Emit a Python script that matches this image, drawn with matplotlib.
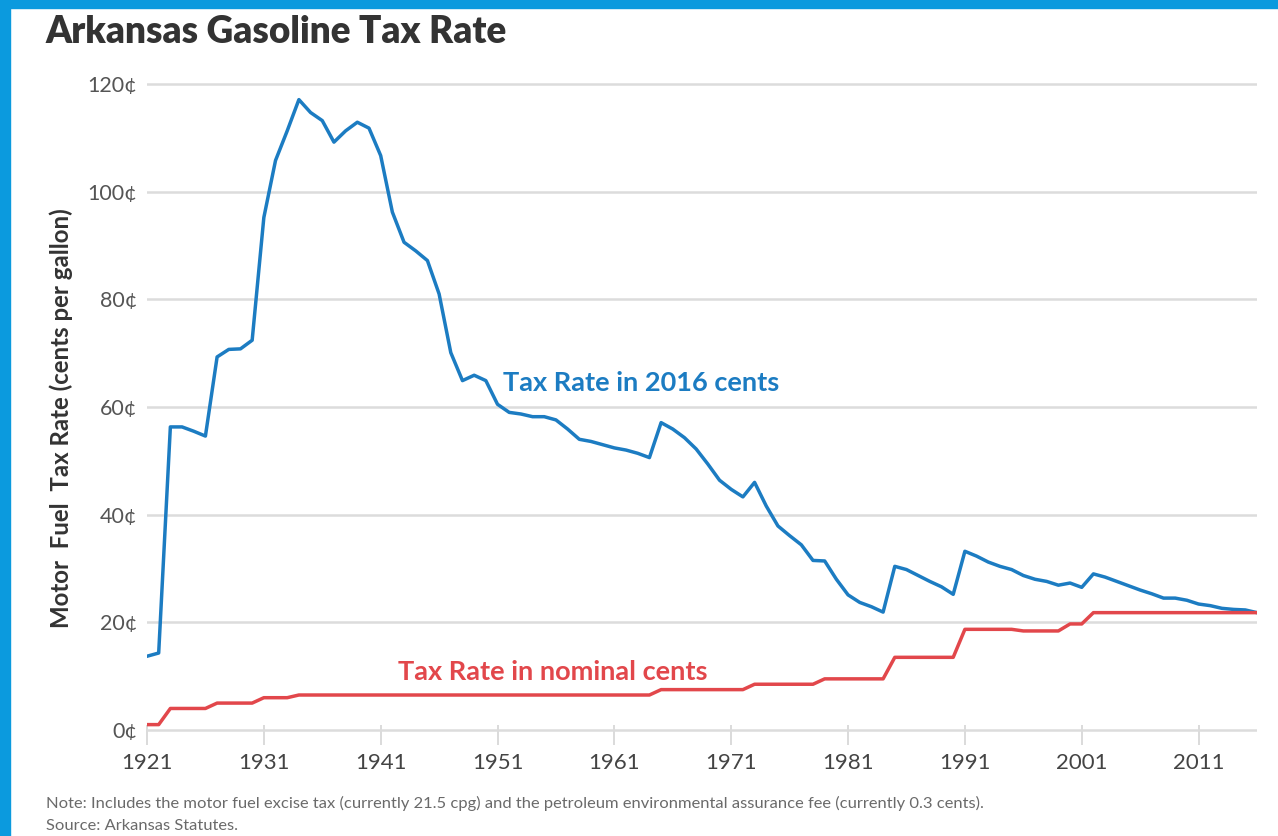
import matplotlib
matplotlib.use("Agg")
import matplotlib.pyplot as plt
from matplotlib.ticker import FuncFormatter, FixedLocator

plt.rcParams['font.family'] = ['Lato', 'DejaVu Sans']

years = list(range(1921, 2017))

real_2016 = [
    13.7, 14.3, 56.3, 56.3, 55.5, 54.6, 69.3, 70.7, 70.8, 72.4,   # 1921-1930
    95.2, 105.8, 111.3, 117.1, 114.7, 113.2, 109.2, 111.3, 112.9, 111.8,  # 1931-1940
    106.7, 96.2, 90.6, 89.0, 87.2, 81.0, 70.1, 64.9, 65.9, 64.9,  # 1941-1950
    60.5, 59.0, 58.7, 58.2, 58.2, 57.6, 55.9, 54.0, 53.6, 53.0,   # 1951-1960
    52.4, 52.0, 51.4, 50.6, 57.1, 55.9, 54.3, 52.2, 49.4, 46.4,   # 1961-1970
    44.7, 43.3, 46.0, 41.6, 37.9, 36.1, 34.4, 31.5, 31.4, 28.0,   # 1971-1980
    25.1, 23.7, 22.9, 21.9, 30.4, 29.8, 28.7, 27.6, 26.6, 25.2,   # 1981-1990
    33.2, 32.3, 31.2, 30.4, 29.8, 28.7, 28.0, 27.6, 26.9, 27.3,   # 1991-2000
    26.5, 29.0, 28.4, 27.6, 26.8, 26.0, 25.3, 24.5, 24.5, 24.1,   # 2001-2010
    23.4, 23.1, 22.6, 22.4, 22.3, 21.8,                           # 2011-2016
]

nominal = [
    1.0, 1.0, 4.0, 4.0, 4.0, 4.0, 5.0, 5.0, 5.0, 5.0,             # 1921-1930
    6.0, 6.0, 6.0, 6.5, 6.5, 6.5, 6.5, 6.5, 6.5, 6.5,             # 1931-1940
    6.5, 6.5, 6.5, 6.5, 6.5, 6.5, 6.5, 6.5, 6.5, 6.5,             # 1941-1950
    6.5, 6.5, 6.5, 6.5, 6.5, 6.5, 6.5, 6.5, 6.5, 6.5,             # 1951-1960
    6.5, 6.5, 6.5, 6.5, 7.5, 7.5, 7.5, 7.5, 7.5, 7.5,             # 1961-1970
    7.5, 7.5, 8.5, 8.5, 8.5, 8.5, 8.5, 8.5, 9.5, 9.5,             # 1971-1980
    9.5, 9.5, 9.5, 9.5, 13.5, 13.5, 13.5, 13.5, 13.5, 13.5,       # 1981-1990
    18.7, 18.7, 18.7, 18.7, 18.7, 18.4, 18.4, 18.4, 18.4, 19.7,   # 1991-2000
    19.7, 21.8, 21.8, 21.8, 21.8, 21.8, 21.8, 21.8, 21.8, 21.8,   # 2001-2010
    21.8, 21.8, 21.8, 21.8, 21.8, 21.8,                           # 2011-2016
]

x_ticks = [1921, 1931, 1941, 1951, 1961, 1971, 1981, 1991, 2001, 2011]
y_ticks = [0, 20, 40, 60, 80, 100, 120]

BLUE = "#1c7cc2"
RED = "#e2474b"
FRAME = "#0b9ade"

W, H = 1278, 836
fig = plt.figure(figsize=(W / 100, H / 100), dpi=100)
fig.patch.set_facecolor("white")

# blue frame (top + left)
fig.add_artist(plt.Rectangle((0, 1 - 8 / H), 1, 8 / H, transform=fig.transFigure,
                             color=FRAME, zorder=0))
fig.add_artist(plt.Rectangle((0, 0), 10 / W, 1, transform=fig.transFigure,
                             color=FRAME, zorder=0))

# axes placement
ymin, ymax = -1, 121
px_per = (730 - 84) / 120
y_bot = 730 + px_per * (0 - ymin)
y_top = 84 - px_per * (ymax - 120)
ax = fig.add_axes([147 / W, (H - y_bot) / H, (1257 - 147) / W, (y_bot - y_top) / H])
ax.set_xlim(1921, 2016)
ax.set_ylim(ymin, ymax)

ax.plot(years, real_2016, color=BLUE, lw=2.5, solid_joinstyle="round", zorder=3)
ax.plot(years, nominal, color=RED, lw=2.5, solid_joinstyle="round", zorder=3)

for s in ax.spines.values():
    s.set_visible(False)
ax.yaxis.set_major_locator(FixedLocator(y_ticks))
ax.xaxis.set_major_locator(FixedLocator(x_ticks))
ax.grid(axis="y", color="#dcdcdc", lw=1.8, zorder=0)
ax.set_axisbelow(True)
ax.yaxis.set_major_formatter(FuncFormatter(lambda v, p: f"{int(v)}¢"))
ax.tick_params(axis="y", length=0, pad=7, labelsize=15.5, labelcolor="#555555")
ax.tick_params(axis="x", direction="inout", length=14, width=1.2, color="#d4d4d4",
               pad=6, labelsize=16, labelcolor="#444444")

ax.set_ylabel("Motor  Fuel  Tax Rate (cents per gallon)", fontsize=17.3,
              color="#333333", fontweight="bold")
ax.yaxis.set_label_coords((73 - 147) / (1257 - 147), (y_bot - 418) / (y_bot - y_top))

ax.text(1951.5, 64.5, "Tax Rate in 2016 cents", color=BLUE, fontsize=19.5,
        fontweight="bold", va="center", ha="left")
ax.text(1942.5, 10.8, "Tax Rate in nominal cents", color=RED, fontsize=19.5,
        fontweight="bold", va="center", ha="left")

fig.text(45 / W, 1 - 32 / H, "Arkansas Gasoline Tax Rate", fontsize=26.6,
         fontweight="heavy", color="#333333", va="center", ha="left")
fig.text(46 / W, 1 - 803 / H,
         "Note: Includes the motor fuel excise tax (currently 21.5 cpg) and the petroleum environmental assurance fee (currently 0.3 cents).",
         fontsize=11.85, color="#6a6a6a", va="center", ha="left")
fig.text(46 / W, 1 - 826 / H, "Source: Arkansas Statutes.", fontsize=11.85,
         color="#6a6a6a", va="center", ha="left")

fig.savefig("out.png", dpi=100, facecolor="white")
